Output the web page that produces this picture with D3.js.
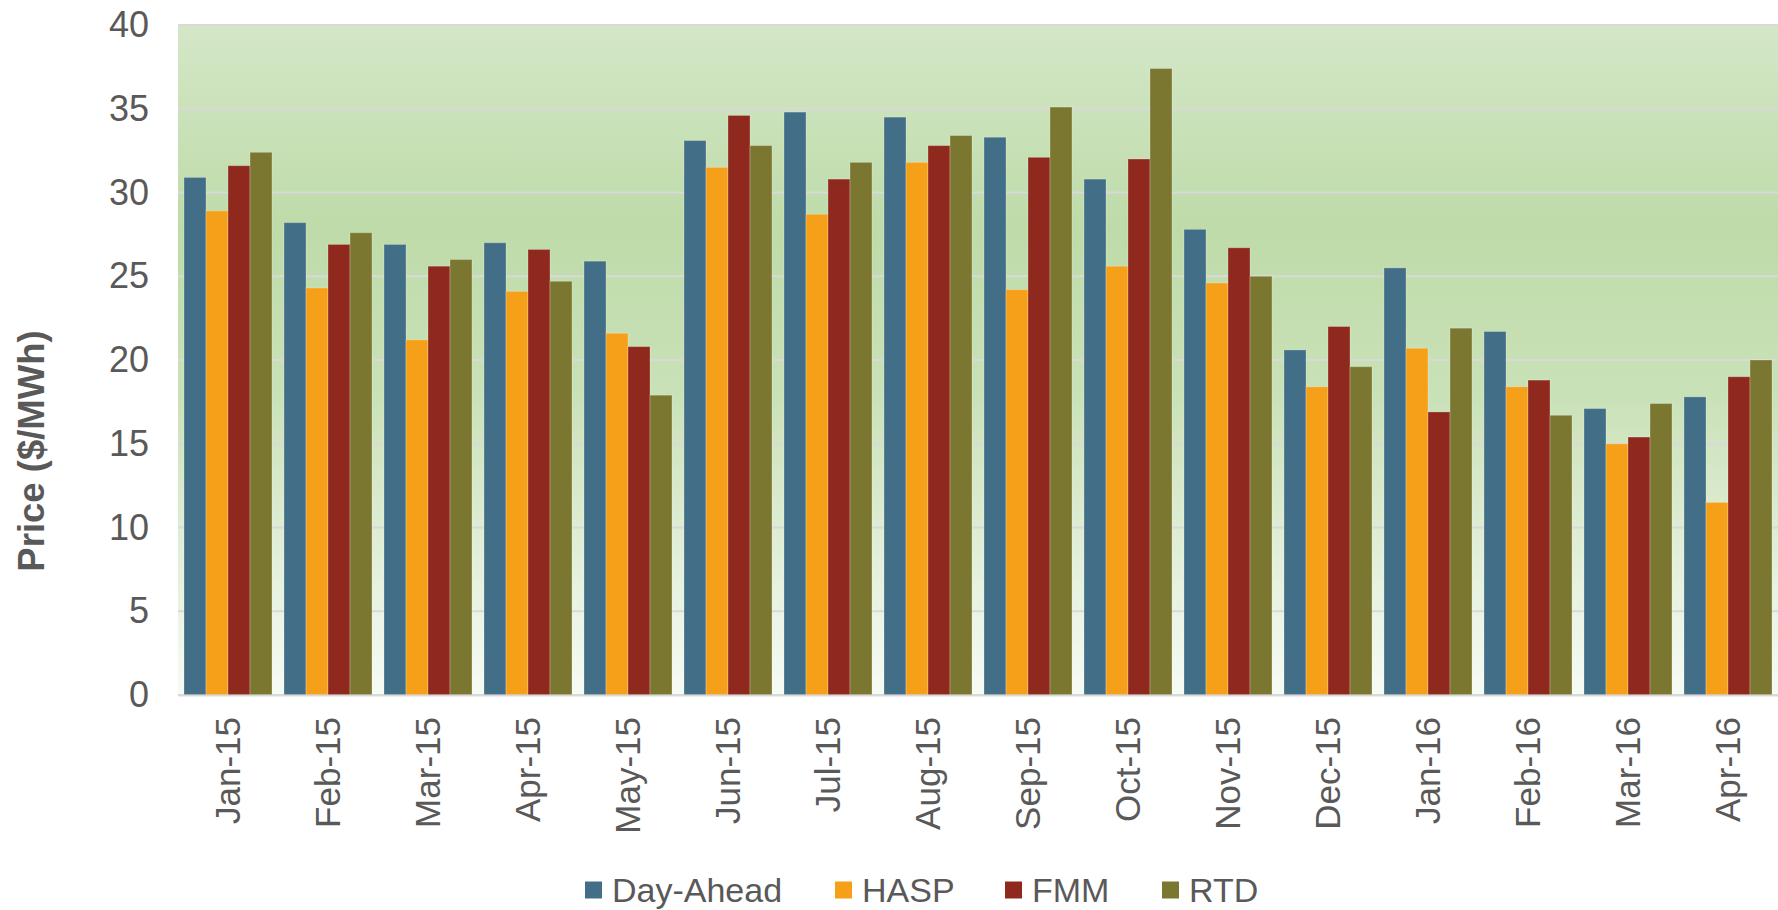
<!DOCTYPE html>
<html>
<head>
<meta charset="utf-8">
<script src="https://d3js.org/d3.v7.min.js"></script>
<style>
  body { margin: 0; background: #fff; }
  #chart { width: 1778px; height: 910px; }
  text { font-family: "Liberation Sans", Arial, sans-serif; fill: #595959; }
</style>
</head>
<body>
<div id="chart"></div>
<script>
// months on the x axis
var months = ["Jan-15", "Feb-15", "Mar-15", "Apr-15", "May-15", "Jun-15", "Jul-15", "Aug-15",
              "Sep-15", "Oct-15", "Nov-15", "Dec-15", "Jan-16", "Feb-16", "Mar-16", "Apr-16"];

var seriesNames = ["Day-Ahead", "HASP", "FMM", "RTD"];
var seriesColors = ["#436e87", "#f6a01a", "#8f281d", "#7b7731"];

// prices in $/MWh
var dayAhead = [30.9, 28.2, 26.9, 27.0, 25.9, 33.1, 34.8, 34.5, 33.3, 30.8, 27.8, 20.6, 25.5, 21.7, 17.1, 17.8];
var hasp     = [28.9, 24.3, 21.2, 24.1, 21.6, 31.5, 28.7, 31.8, 24.2, 25.6, 24.6, 18.4, 20.7, 18.4, 15.0, 11.5];
var fmm      = [31.6, 26.9, 25.6, 26.6, 20.8, 34.6, 30.8, 32.8, 32.1, 32.0, 26.7, 22.0, 16.9, 18.8, 15.4, 19.0];
var rtd      = [32.4, 27.6, 26.0, 24.7, 17.9, 32.8, 31.8, 33.4, 35.1, 37.4, 25.0, 19.6, 21.9, 16.7, 17.4, 20.0];

var yTicks = [0, 5, 10, 15, 20, 25, 30, 35, 40];

var allSeries = [dayAhead, hasp, fmm, rtd];

var margin = {top: 25, right: 0, bottom: 215, left: 178},
    width = 1778 - margin.left - margin.right,
    height = 910 - margin.top - margin.bottom;

var svg = d3.select("#chart").append("svg")
    .attr("width", 1778)
    .attr("height", 910);

var g = svg.append("g")
    .attr("transform", "translate(" + margin.left + "," + margin.top + ")");

var x = d3.scaleBand()
    .domain(months)
    .range([0, width])
    .padding(0);

// inner band for the four bars, leaves a small gap between months
var x1 = d3.scaleBand()
    .domain(seriesNames)
    .range([x.bandwidth() * 0.06, x.bandwidth() * 0.94])
    .padding(0);

var y = d3.scaleLinear()
    .domain([0, 40])
    .range([height, 0]);

// plot background gradient
var defs = svg.append("defs");
var grad = defs.append("linearGradient")
    .attr("id", "bg")
    .attr("x1", 0).attr("y1", 0)
    .attr("x2", 0).attr("y2", 1);
grad.append("stop").attr("offset", "0%").attr("stop-color", "#d4e7c7");
grad.append("stop").attr("offset", "30%").attr("stop-color", "#bedba9");
grad.append("stop").attr("offset", "55%").attr("stop-color", "#c9e1b7");
grad.append("stop").attr("offset", "100%").attr("stop-color", "#f7fbf5");

g.append("rect")
    .attr("x", 0)
    .attr("y", 0)
    .attr("width", width)
    .attr("height", height)
    .attr("fill", "url(#bg)");

// gridlines
g.append("g")
    .selectAll("line")
    .data(yTicks)
    .enter()
    .append("line")
    .attr("x1", 0)
    .attr("x2", width)
    .attr("y1", d => y(d))
    .attr("y2", d => y(d))
    .attr("stroke", "#d9d9d9")
    .attr("stroke-width", 2);

// bars
var groups = g.selectAll(".month")
    .data(months)
    .enter()
    .append("g")
    .attr("class", "month")
    .attr("transform", d => "translate(" + x(d) + ",0)");

groups.selectAll("rect")
    .data((m, i) => seriesNames.map((s, j) => ({series: s, color: seriesColors[j], value: allSeries[j][i]})))
    .enter()
    .append("rect")
    .attr("x", d => x1(d.series))
    .attr("y", d => y(d.value))
    .attr("width", x1.bandwidth())
    .attr("height", d => height - y(d.value))
    .attr("fill", d => d.color)
    .attr("stroke", "rgba(255,255,255,0.25)")
    .attr("stroke-width", 1);

// y axis
var yAxis = g.append("g")
    .call(d3.axisLeft(y).tickValues(yTicks).tickSize(0).tickPadding(29));
yAxis.select(".domain").remove();
yAxis.selectAll("text")
    .attr("font-size", "36px")
    .attr("fill", "#595959")
    .attr("font-family", "Liberation Sans, Arial, sans-serif");

// x axis
var xAxis = g.append("g")
    .attr("transform", "translate(0," + height + ")")
    .call(d3.axisBottom(x).tickSize(0));
xAxis.select(".domain")
    .attr("stroke", "#d9d9d9")
    .attr("stroke-width", 2);
xAxis.selectAll("text")
    .attr("font-size", "35px")
    .attr("fill", "#595959")
    .attr("font-family", "Liberation Sans, Arial, sans-serif")
    .attr("transform", "rotate(-90)")
    .attr("text-anchor", "end")
    .attr("x", -22)
    .attr("y", 0)
    .attr("dy", "0.35em");

// y axis label
svg.append("text")
    .attr("transform", "translate(31,451) rotate(-90)")
    .attr("text-anchor", "middle")
    .attr("dy", "0.35em")
    .attr("font-size", "36.5px")
    .attr("font-weight", "bold")
    .text("Price ($/MWh)");

// legend
var legendX = [585, 835, 1005, 1162];
var legend = svg.append("g")
    .selectAll("g")
    .data(seriesNames)
    .enter()
    .append("g")
    .attr("transform", (d, i) => "translate(" + legendX[i] + ",890)");

legend.append("rect")
    .attr("x", 0)
    .attr("y", -8.5)
    .attr("width", 17)
    .attr("height", 17)
    .attr("fill", (d, i) => seriesColors[i]);

legend.append("text")
    .attr("x", 27)
    .attr("y", 0)
    .attr("dy", "0.35em")
    .attr("font-size", "34px")
    .text(d => d);
</script>
</body>
</html>
